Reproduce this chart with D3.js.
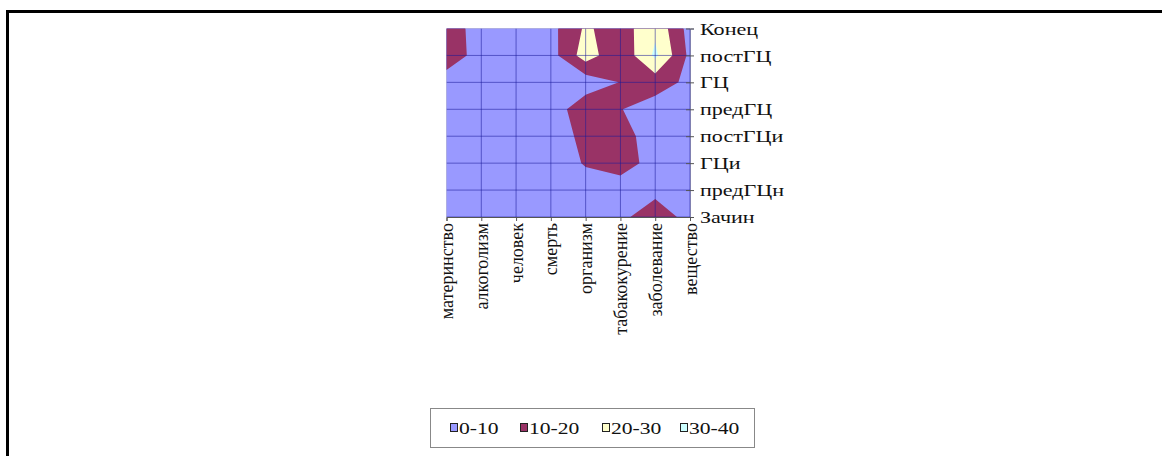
<!DOCTYPE html>
<html>
<head>
<meta charset="utf-8">
<script src="https://cdn.jsdelivr.net/npm/d3@7"></script>
<style>
  body { margin: 0; background: #fff; }
  text { font-family: "Liberation Serif", "Times New Roman", serif; fill: #111; }
</style>
</head>
<body>
<div class="chart"></div>
<script>
var svgWidth = 1162;
var svgHeight = 456;

// categories
var xCategories = ["материнство", "алкоголизм", "человек", "смерть", "организм", "табакокурение", "заболевание", "вещество"];
var yCategories = ["Конец", "постГЦ", "ГЦ", "предГЦ", "постГЦи", "ГЦи", "предГЦн", "Зачин"];

// surface values, one array per row (y category), one value per x category
var konets   = [16, 5, 4, 7, 21.5, 15, 28, 6];
var postGC   = [17, 5, 4, 6, 25, 12, 32, 7.5];
var gc       = [4, 3, 3, 5, 4, 10.3, 14, 8];
var predGC   = [3, 2, 3, 4, 17, 10.3, 6, 5];
var postGCi  = [2, 2, 3, 4, 13, 14, 5, 4];
var gci      = [2, 2, 2, 3, 11, 16, 5, 4];
var predGCn  = [2, 2, 2, 2, 4, 3, 7.5, 6];
var zachin   = [2, 2, 2, 2, 3, 8, 15, 7];

var bandLabels = ["0-10", "10-20", "20-30", "30-40"];
var bandThresholds = [10, 20, 30];
var bandColors = ["#9999ff", "#993366", "#ffffcc", "#ccffff"];

var plot = { left: 446.5, right: 690, top: 28.5, bottom: 217 };

var svg = d3.select(".chart")
  .append("svg")
  .attr("width", svgWidth)
  .attr("height", svgHeight);

// outer frame (only top and left edges are in view)
svg.append("path")
  .attr("d", "M7.5," + svgHeight + "V11.5H" + svgWidth)
  .attr("fill", "none")
  .attr("stroke", "#000")
  .attr("stroke-width", 3);

var rows = [konets, postGC, gc, predGC, postGCi, gci, predGCn, zachin];
var grid = [].concat.apply([], rows);

var xPoint = d3.scalePoint().domain(xCategories).range([plot.left, plot.right]);
var yPoint = d3.scalePoint().domain(yCategories).range([plot.top, plot.bottom]);

// contour grid coords: value i sits at i + 0.5
var cx = d3.scaleLinear().domain([0.5, xCategories.length - 0.5]).range([plot.left, plot.right]);
var cy = d3.scaleLinear().domain([0.5, yCategories.length - 0.5]).range([plot.top, plot.bottom]);

var contours = d3.contours()
  .size([xCategories.length, yCategories.length])
  .thresholds(bandThresholds)(grid);

var path = d3.geoPath(d3.geoTransform({
  point: function(x, y) { this.stream.point(cx(x), cy(y)); }
}));

svg.append("clipPath")
  .attr("id", "plotClip")
  .append("rect")
  .attr("x", plot.left)
  .attr("y", plot.top)
  .attr("width", plot.right - plot.left)
  .attr("height", plot.bottom - plot.top);

var chart = svg.append("g").attr("clip-path", "url(#plotClip)");

chart.append("rect")
  .attr("x", plot.left)
  .attr("y", plot.top)
  .attr("width", plot.right - plot.left)
  .attr("height", plot.bottom - plot.top)
  .attr("fill", bandColors[0]);

chart.selectAll("path.band")
  .data(contours)
  .enter().append("path")
    .attr("class", "band")
    .attr("d", path)
    .attr("fill", function(d, i) { return bandColors[i + 1]; });

// wireframe grid
chart.selectAll("line.vgrid")
  .data(xCategories)
  .enter().append("line")
    .attr("x1", function(d) { return xPoint(d); })
    .attr("x2", function(d) { return xPoint(d); })
    .attr("y1", plot.top)
    .attr("y2", plot.bottom)
    .attr("stroke", "#1a1a99")
    .attr("stroke-opacity", 0.55);

chart.selectAll("line.hgrid")
  .data(yCategories)
  .enter().append("line")
    .attr("x1", plot.left)
    .attr("x2", plot.right)
    .attr("y1", function(d) { return yPoint(d); })
    .attr("y2", function(d) { return yPoint(d); })
    .attr("stroke", "#1a1a99")
    .attr("stroke-opacity", 0.55);

// right axis (series)
var rightAxis = d3.axisRight(yPoint).tickSize(4).tickPadding(0);
var ry = svg.append("g")
  .attr("transform", "translate(" + plot.right + ",0)")
  .call(rightAxis);
ry.select(".domain").attr("stroke", "#8080b0");
ry.selectAll(".tick line").attr("x1", -4).attr("stroke", "#555");
ry.selectAll(".tick text")
  .attr("x", 0)
  .attr("dy", "0.35em")
  .attr("transform", "translate(10,0) scale(1.38,1)")
  .style("font-size", "16px")
  .style("font-family", "'Liberation Serif', serif")
  .attr("fill", "#111");

// bottom axis (categories)
var bottomAxis = d3.axisBottom(xPoint).tickSize(4).tickPadding(0);
var bx = svg.append("g")
  .attr("transform", "translate(0," + plot.bottom + ")")
  .call(bottomAxis);
bx.select(".domain").attr("stroke", "#555");
bx.selectAll(".tick line").attr("stroke", "#555");
bx.selectAll(".tick text")
  .attr("x", 0)
  .attr("y", 0)
  .attr("dy", 0)
  .attr("text-anchor", "end")
  .attr("transform", "translate(6,6) rotate(-90)")
  .style("font-size", "18px")
  .style("font-family", "'Liberation Serif', serif")
  .attr("fill", "#111");

// legend
var legendX = [450, 520, 602, 680];
var legend = svg.append("g");
legend.append("rect")
  .attr("x", 430.5)
  .attr("y", 408.5)
  .attr("width", 324)
  .attr("height", 39)
  .attr("fill", "#fff")
  .attr("stroke", "#888");

var item = legend.selectAll("g.item")
  .data(bandLabels)
  .enter().append("g")
    .attr("class", "item")
    .attr("transform", function(d, i) { return "translate(" + legendX[i] + ",428)"; });

item.append("rect")
  .attr("x", 0.5)
  .attr("y", -4.5)
  .attr("width", 7)
  .attr("height", 8)
  .attr("fill", function(d, i) { return bandColors[i]; })
  .attr("stroke", "#222");

item.append("text")
  .attr("dy", "0.35em")
  .attr("transform", "translate(9,0) scale(1.35,1)")
  .style("font-size", "16px")
  .text(function(d) { return d; });
</script>
</body>
</html>
